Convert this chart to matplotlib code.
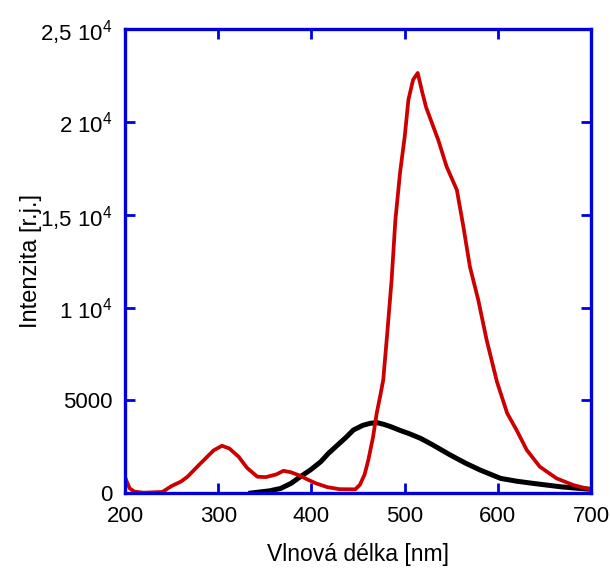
import numpy as np
import matplotlib.pyplot as plt

plt.rcParams['font.family'] = ['Liberation Sans', 'DejaVu Sans']
plt.rcParams['mathtext.default'] = 'regular'

# emission spectrum (red)
red_x = [200, 202, 205, 210, 220, 240, 250, 260, 267, 280, 295, 304, 312, 322,
         331, 342, 351, 362, 370, 378, 387, 395, 405, 417, 430, 447, 452, 457,
         461, 466, 470, 474, 477, 481, 486, 490, 495, 500, 504, 509, 514, 519,
         523, 528, 536, 545, 556, 563, 570, 579, 588, 599, 610, 620, 631, 645,
         663, 681, 695, 700]
red_y = [860, 600, 250, 80, 20, 60, 380, 620, 880, 1550, 2300, 2550, 2400, 1950,
         1350, 880, 860, 1000, 1200, 1120, 950, 750, 520, 320, 210, 200, 450, 1000,
         1780, 3000, 4300, 5300, 6100, 8430, 11500, 14700, 17260, 19200, 21200,
         22280, 22650, 21580, 20800, 20120, 19040, 17600, 16340, 14360, 12200,
         10400, 8240, 6000, 4300, 3400, 2320, 1420, 790, 430, 250, 200]

# reference spectrum (black)
black_x = [335, 345, 355, 367, 378, 388, 399, 410, 418, 428, 437, 445, 455, 463,
           470, 478, 485, 495, 505, 517, 530, 549, 565, 581, 603, 620, 638, 667,
           685, 700]
black_y = [0, 60, 120, 250, 520, 880, 1250, 1690, 2130, 2590, 3000, 3400, 3650,
           3760, 3800, 3700, 3580, 3380, 3200, 2950, 2600, 2050, 1620, 1240, 790,
           640, 520, 340, 260, 200]

y_ticks = [0, 5000, 10000, 15000, 20000, 25000]
y_tick_labels = ['0', '5000', '1 10$^{4}$', '1,5 10$^{4}$', '2 10$^{4}$', '2,5 10$^{4}$']
x_ticks = [200, 300, 400, 500, 600, 700]

fig = plt.figure(figsize=(6.1, 5.76), dpi=100)
ax = fig.add_axes([0.205, 0.144, 0.764, 0.805])

ax.plot(black_x, black_y, color='black', lw=3.6)
ax.plot(red_x, red_y, color='#cc0000', lw=2.7)

ax.set_xlim(200, 700)
ax.set_ylim(0, 25000)
ax.set_xticks(x_ticks)
ax.set_yticks(y_ticks)
ax.set_yticklabels(y_tick_labels)

for s in ax.spines.values():
    s.set_color('#0000dd')
    s.set_linewidth(2.4)

ax.tick_params(direction='in', length=7, width=2, color='#0000dd',
               top=True, right=True, labelsize=16, labelcolor='black')
ax.tick_params(axis='y', pad=9)
ax.tick_params(axis='x', pad=9)

ax.set_xlabel('Vlnová délka [nm]', fontsize=16.5, labelpad=12)
ax.set_ylabel('Intenzita [r.j.]', fontsize=17, labelpad=-1)

fig.savefig('out.png', dpi=100)
